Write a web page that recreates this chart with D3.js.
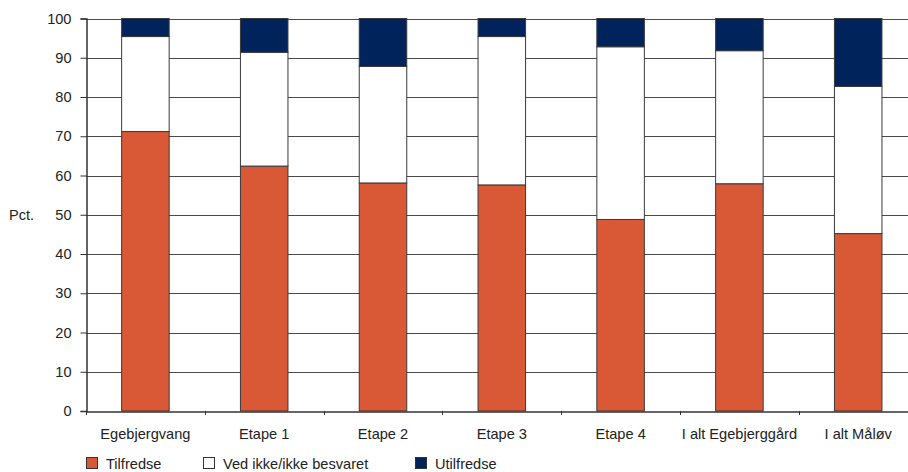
<!DOCTYPE html>
<html><head><meta charset="utf-8">
<script src="https://cdn.jsdelivr.net/npm/d3@7"></script>
<style>body{margin:0;background:#fff}svg{display:block;font-family:"Liberation Sans",Arial,sans-serif}</style>
</head><body><svg id="c" width="908" height="472"></svg>
<script>
const categories = ["Egebjergvang","Etape 1","Etape 2","Etape 3","Etape 4","I alt Egebjerggård","I alt Måløv"];
const tilfredse = [71.2, 62.4, 58.1, 57.6, 48.8, 57.9, 45.2];
const vedIkke   = [24.2, 29.0, 29.7, 37.8, 44.0, 33.9, 37.5];
const utilfredse= [4.6, 8.6, 12.2, 4.6, 7.2, 8.2, 17.3];
const seriesNames = ["Tilfredse","Ved ikke/ikke besvaret","Utilfredse"];
const seriesColors = ["#D95835","#FFFFFF","#00235B"];
const yTicks = [0,10,20,30,40,50,60,70,80,90,100];

const svg = d3.select("#c");
const mLeft = 86, mTop = 18.5, mBottom = 411, band = 118.8;
const FS = 14.6;
const x = d3.scaleBand().domain(categories).range([mLeft, mLeft + band*categories.length]).paddingInner(0).paddingOuter(0);
const y = d3.scaleLinear().domain([0,100]).range([mBottom, mTop]);

// gridlines
svg.append("g").selectAll("line").data(yTicks.filter(d=>d>0)).join("line")
  .attr("x1", mLeft).attr("x2", x.range()[1])
  .attr("y1", d=>Math.round(y(d))+0.5).attr("y2", d=>Math.round(y(d))+0.5)
  .attr("stroke", "#4a4a4a").attr("stroke-width", 1);

const table = categories.map((c,i)=>({cat:c, Tilfredse:tilfredse[i], "Ved ikke/ikke besvaret":vedIkke[i], Utilfredse:utilfredse[i]}));
const stack = d3.stack().keys(seriesNames)(table);
const bw = band*0.4;
stack.forEach((s,si)=>{
  svg.append("g").selectAll("rect").data(s).join("rect")
    .attr("x", d=>x(d.data.cat) + (band-bw)/2)
    .attr("width", bw)
    .attr("y", d=>y(Math.min(d[1],100)))
    .attr("height", d=>y(d[0]) - y(Math.min(d[1],100)))
    .attr("fill", seriesColors[si])
    .attr("stroke", "#3a3a3a").attr("stroke-width", 1);
});

// y axis
const ya = d3.axisLeft(y).tickValues(yTicks).tickSize(6).tickPadding(9);
const yg = svg.append("g").attr("transform",`translate(${mLeft+0.5},0)`).call(ya);
yg.select(".domain").attr("stroke","#333").attr("stroke-width",1.5);
yg.selectAll(".tick line").attr("stroke","#333");
yg.selectAll("text").attr("font-size",FS).attr("fill","#222").attr("font-family","Liberation Sans, Arial, sans-serif");

// x axis
const xa = d3.axisBottom(x).tickSize(0).tickPadding(0);
const xg = svg.append("g").attr("transform",`translate(0,${mBottom+0.5})`).call(xa);
xg.select(".domain").attr("stroke","#333").attr("stroke-width",1.5);
xg.selectAll(".tick text").attr("dy", null).attr("y", 27).attr("font-size",FS).attr("fill","#222").attr("font-family","Liberation Sans, Arial, sans-serif");
// boundary ticks between categories
svg.append("g").selectAll("line").data(d3.range(categories.length)).join("line")
  .attr("x1", i=>Math.round(mLeft + i*band)+0.5).attr("x2", i=>Math.round(mLeft + i*band)+0.5)
  .attr("y1", mBottom).attr("y2", mBottom+4).attr("stroke","#333");

svg.append("text").attr("x", 9).attr("y", 220).attr("font-size",FS).attr("fill","#222").text("Pct.");

// legend
const legX = [86, 203, 415];
const lg = svg.append("g").selectAll("g").data(seriesNames).join("g")
  .attr("transform",(d,i)=>`translate(${legX[i]},457)`);
lg.append("rect").attr("x",0.5).attr("y",0.5).attr("width",11).attr("height",11)
  .attr("fill",(d,i)=>seriesColors[i]).attr("stroke","#333");
lg.append("text").attr("x",20).attr("y",11.5).attr("font-size",FS).attr("fill","#222").text(d=>d);
</script></body></html>
